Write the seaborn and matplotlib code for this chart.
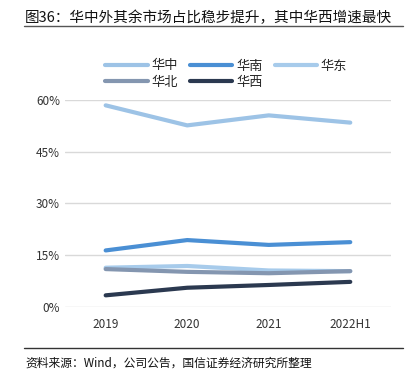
import matplotlib
matplotlib.use("Agg")
import matplotlib.pyplot as plt
import seaborn as sns
import pandas as pd
from matplotlib.lines import Line2D

years = ["2019", "2020", "2021", "2022H1"]
huazhong = [58.4, 52.6, 55.5, 53.4]
huanan = [16.4, 19.4, 18.0, 18.8]
huadong = [11.4, 11.9, 10.6, 10.4]
huabei = [11.0, 10.2, 9.8, 10.4]
huaxi = [3.4, 5.6, 6.4, 7.3]

regions = ["华中", "华南", "华东", "华北", "华西"]
colors = ["#9DC3E6", "#4A8FD4", "#A7CBEB", "#8496B0", "#2B3950"]

sns.set_theme(style="white")
plt.rcParams["font.family"] = ["Noto Sans CJK SC", "DejaVu Sans"]

df = pd.DataFrame({"year": years * 5,
                   "region": [r for r in regions for _ in years],
                   "share": huazhong + huanan + huadong + huabei + huaxi})

fig = plt.figure(figsize=(4.16, 3.81), dpi=100)
ax = fig.add_axes([0.156, 0.194, 0.784, 0.544])

sns.lineplot(data=df, x="year", y="share", hue="region", palette=colors,
             hue_order=regions, linewidth=3, legend=False, ax=ax, sort=False)

ax.set_xlim(-0.5, 3.5)
ax.set_ylim(0, 60)
ax.set_yticks([0, 15, 30, 45, 60])
ax.set_yticklabels([f"{v}%" for v in [0, 15, 30, 45, 60]])
ax.yaxis.grid(True, color="#D9D9D9", linewidth=1)
ax.set_axisbelow(True)
for s in ax.spines.values():
    s.set_visible(False)
ax.tick_params(axis="both", length=0, labelsize=8.5, colors="#333333")
ax.tick_params(axis="x", pad=8)
ax.set_xlabel("")
ax.set_ylabel("")

# legend fills column-wise, so reorder to get rows 华中 华南 华东 / 华北 华西
order = [0, 3, 1, 4, 2]
handles = [Line2D([0], [0], color=colors[i], lw=3) for i in order]
fig.legend(handles, [regions[i] for i in order], loc="upper left",
           bbox_to_anchor=(0.225, 0.875), ncol=3, frameon=False, fontsize=9.5,
           handlelength=3.2, columnspacing=0.9, handletextpad=0.3,
           labelspacing=0.25)

fig.text(0.06, 0.952, "图36：华中外其余市场占比稳步提升，其中华西增速最快",
         fontsize=10.5, va="center", ha="left", color="#111111")
fig.add_artist(Line2D([0.058, 0.968], [0.932, 0.932], color="#555555", lw=1))
fig.add_artist(Line2D([0.058, 0.968], [0.087, 0.087], color="#333333", lw=1))
fig.text(0.06, 0.047, "资料来源：Wind，公司公告，国信证券经济研究所整理",
         fontsize=8.5, va="center", ha="left", color="#111111")

fig.savefig("out.png", dpi=100)
